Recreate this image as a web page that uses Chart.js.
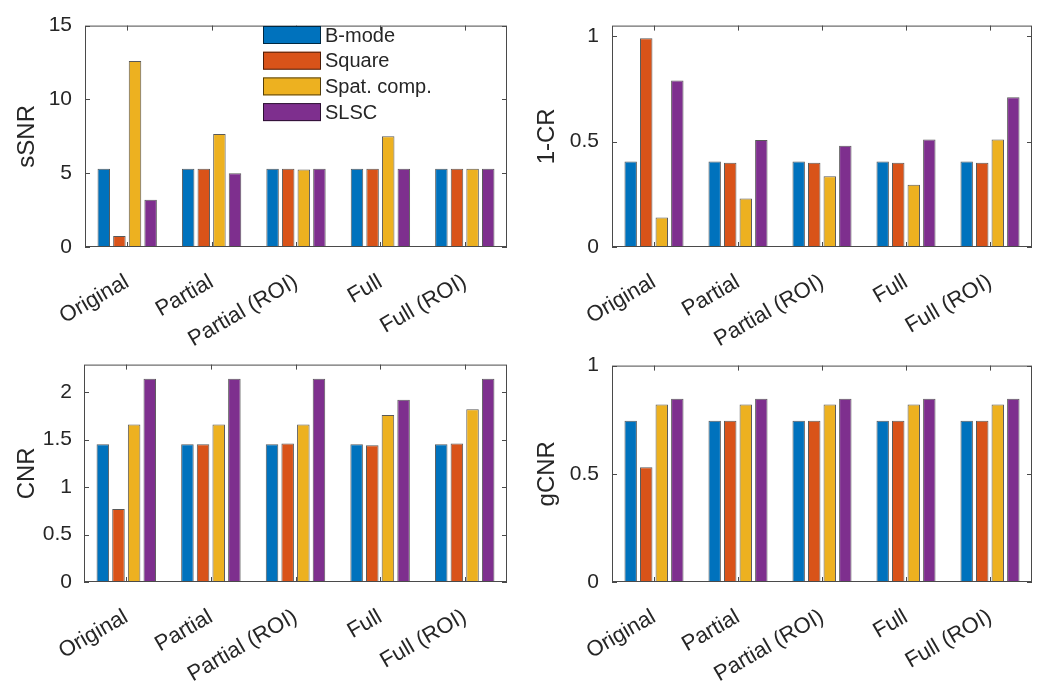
<!DOCTYPE html>
<html>
<head>
<meta charset="utf-8">
<script src="https://cdn.jsdelivr.net/npm/chart.js@4.4.1/dist/chart.umd.min.js"></script>
<style>
  body { margin: 0; background: #fff; }
  #wrap { position: relative; width: 1050px; height: 684px; overflow: hidden; }
  .panel { position: absolute; }
</style>
</head>
<body>
<div id="wrap">
  <div class="panel" style="left:0;top:340px;width:520px;height:344px"><canvas id="c3"></canvas></div>
  <div class="panel" style="left:520px;top:340px;width:530px;height:344px"><canvas id="c4"></canvas></div>
  <div class="panel" style="left:0;top:0;width:520px;height:360px"><canvas id="c1"></canvas></div>
  <div class="panel" style="left:520px;top:0;width:530px;height:360px"><canvas id="c2"></canvas></div>
</div>
<script>
const categories = ['Original', 'Partial', 'Partial (ROI)', 'Full', 'Full (ROI)']
const methods = ['B-mode', 'Square', 'Spat. comp.', 'SLSC']
const colors = ['#0072BD', '#D95319', '#EDB120', '#7E2F8E']

// sSNR
const ssnr_bmode  = [5.3, 5.3, 5.3, 5.3, 5.3]
const ssnr_square = [0.75, 5.3, 5.3, 5.3, 5.3]
const ssnr_spat   = [12.6, 7.65, 5.25, 7.5, 5.3]
const ssnr_slsc   = [3.2, 5.0, 5.3, 5.3, 5.3]
const ssnr_ticks  = [0, 5, 10, 15]

// 1-CR
const cr_bmode  = [0.405, 0.405, 0.405, 0.405, 0.405]
const cr_square = [0.99, 0.40, 0.40, 0.40, 0.40]
const cr_spat   = [0.14, 0.23, 0.335, 0.295, 0.51]
const cr_slsc   = [0.79, 0.507, 0.48, 0.51, 0.71]
const cr_ticks  = [0, 0.5, 1]

// CNR
const cnr_bmode  = [1.45, 1.45, 1.45, 1.45, 1.45]
const cnr_square = [0.77, 1.45, 1.46, 1.44, 1.46]
const cnr_spat   = [1.66, 1.66, 1.66, 1.76, 1.82]
const cnr_slsc   = [2.14, 2.14, 2.14, 1.92, 2.14]
const cnr_ticks  = [0, 0.5, 1, 1.5, 2]

// gCNR
const gcnr_bmode  = [0.745, 0.745, 0.745, 0.745, 0.745]
const gcnr_square = [0.53, 0.745, 0.745, 0.745, 0.745]
const gcnr_spat   = [0.82, 0.82, 0.82, 0.82, 0.82]
const gcnr_slsc   = [0.847, 0.847, 0.847, 0.847, 0.847]
const gcnr_ticks  = [0, 0.5, 1]

const FONT = '"Liberation Sans", Arial, Helvetica, sans-serif'
const TXT = '#262626'

// box around the axes with inward ticks on all four sides (matlab style)
const framePlugin = {
  id: 'frame',
  afterDatasetsDraw(chart) {
    const ctx = chart.ctx, a = chart.chartArea
    const x = chart.scales.x, y = chart.scales.y
    const t = 5
    ctx.save()
    ctx.strokeStyle = '#4a4a4a'
    ctx.lineWidth = 1
    ctx.strokeRect(a.left + 0.5, a.top + 0.5, a.right - a.left - 1, a.bottom - a.top - 1)
    ctx.beginPath()
    x.ticks.forEach((tk, i) => {
      const px = Math.round(x.getPixelForTick(i)) + 0.5
      ctx.moveTo(px, a.bottom); ctx.lineTo(px, a.bottom - t)
      ctx.moveTo(px, a.top); ctx.lineTo(px, a.top + t)
    })
    y.ticks.forEach((tk, i) => {
      const py = Math.round(y.getPixelForTick(i)) + 0.5
      ctx.moveTo(a.left, py); ctx.lineTo(a.left + t, py)
      ctx.moveTo(a.right, py); ctx.lineTo(a.right - t, py)
    })
    ctx.stroke()
    ctx.restore()
  }
}

// legend drawn inside the first panel
const boxLegend = {
  id: 'boxLegend',
  afterDraw(chart, args, opts) {
    if (!opts.show) return
    const ctx = chart.ctx
    ctx.save()
    ctx.font = '20px ' + FONT
    ctx.textBaseline = 'middle'
    chart.data.datasets.forEach((ds, i) => {
      const cy = opts.y0 + i * opts.dy
      ctx.fillStyle = ds.backgroundColor
      ctx.fillRect(opts.x0, cy - 9, 58, 18)
      ctx.strokeStyle = 'rgba(0,0,0,0.65)'
      ctx.lineWidth = 1
      ctx.strokeRect(opts.x0 + 0.5, cy - 8.5, 57, 17)
      ctx.fillStyle = TXT
      ctx.fillText(ds.label, opts.x0 + 62, cy + 1)
    })
    ctx.restore()
  }
}

function makeChart(id, title, series, yMax, yTicks, lay) {
  return new Chart(id, {
    type: 'bar',
    data: {
      labels: categories,
      datasets: series.map((d, i) => ({
        label: methods[i],
        data: d,
        backgroundColor: colors[i],
        borderColor: 'rgba(0,0,0,0.65)',
        borderWidth: 1,
        borderSkipped: 'bottom',
        categoryPercentage: 0.74,
        barPercentage: 0.8
      }))
    },
    options: {
      responsive: false,
      animation: false,
      layout: { padding: { top: lay.top, right: lay.right, left: 0, bottom: 0 } },
      plugins: {
        legend: { display: false },
        tooltip: { enabled: false },
        boxLegend: lay.legend || { show: false }
      },
      scales: {
        x: {
          grid: { display: false, drawTicks: false },
          border: { display: false },
          ticks: {
            autoSkip: false, maxRotation: 30, minRotation: 30,
            color: TXT, padding: lay.xpad,
            font: { family: FONT, size: 22 }
          },
          afterFit(s) { s.height = lay.xh }
        },
        y: {
          min: 0, max: yMax,
          grid: { display: false, drawTicks: false },
          border: { display: false },
          afterBuildTicks(s) { s.ticks = yTicks.map(v => ({ value: v })) },
          ticks: {
            color: TXT, padding: lay.ypad,
            font: { family: FONT, size: 21 },
            callback: v => String(v)
          },
          title: {
            display: true, text: title, color: TXT,
            font: { family: FONT, size: 24 },
            padding: { top: 13, bottom: 0 }
          },
          afterFit(s) { s.width = lay.yw }
        }
      }
    },
    plugins: [framePlugin, boxLegend]
  })
}

function sizeCanvas(id, w, h) {
  const c = document.getElementById(id)
  c.width = w; c.height = h
  c.style.width = w + 'px'; c.style.height = h + 'px'
}
sizeCanvas('c1', 520, 360)
sizeCanvas('c2', 530, 360)
sizeCanvas('c3', 520, 344)
sizeCanvas('c4', 530, 344)

// top row canvases are a bit taller so the rotated labels are not cut off
makeChart('c1', 'sSNR', [ssnr_bmode, ssnr_square, ssnr_spat, ssnr_slsc], 15, ssnr_ticks,
  { top: 19, right: 13, xh: 113, yw: 85, xpad: 22, ypad: 13,
    legend: { show: true, x0: 263, y0: 35, dy: 25.7 } })
makeChart('c2', '1-CR', [cr_bmode, cr_square, cr_spat, cr_slsc], 1.05, cr_ticks,
  { top: 19, right: 18, xh: 113, yw: 92, xpad: 22, ypad: 13 })
makeChart('c3', 'CNR', [cnr_bmode, cnr_square, cnr_spat, cnr_slsc], 2.29, cnr_ticks,
  { top: 13, right: 13, xh: 102, yw: 84, xpad: 22, ypad: 12 })
makeChart('c4', 'gCNR', [gcnr_bmode, gcnr_square, gcnr_spat, gcnr_slsc], 1, gcnr_ticks,
  { top: 13, right: 18, xh: 102, yw: 92, xpad: 22, ypad: 13 })
</script>
</body>
</html>
